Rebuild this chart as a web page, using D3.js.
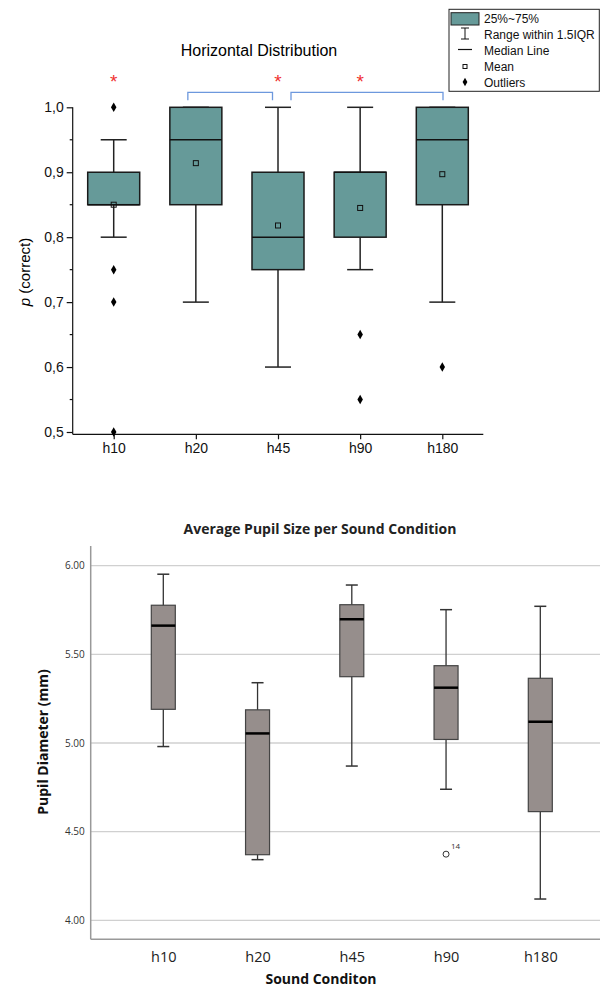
<!DOCTYPE html>
<html>
<head>
<meta charset="utf-8">
<script src="https://cdn.jsdelivr.net/npm/d3@7"></script>
<style>
  body { margin: 0; background: #fff; }
  svg { display: block; }
</style>
</head>
<body>
<div id="chart"></div>
<script>
// top chart: Horizontal Distribution
const conditions = ["h10", "h20", "h45", "h90", "h180"];
const topQ1 =     [0.85, 0.85, 0.75, 0.80, 0.85];
const topMedian = [0.85, 0.95, 0.80, 0.90, 0.95];
const topQ3 =     [0.90, 1.00, 0.90, 0.90, 1.00];
const topLow =    [0.80, 0.70, 0.60, 0.75, 0.70];
const topHigh =   [0.95, 1.00, 1.00, 1.00, 1.00];
const topMean =   [0.85, 0.914, 0.818, 0.845, 0.897];
const topOutliers = [[1.0, 0.75, 0.70, 0.50], [], [], [0.65, 0.55], [0.60]];
const topTicks = [0.5, 0.6, 0.7, 0.8, 0.9, 1.0];
const sigStars = ["h10", "h45", "h90"];
const sigBrackets = [["h20", "h45"], ["h45", "h180"]];
const legendLabels = ["25%~75%", "Range within 1.5IQR", "Median Line", "Mean", "Outliers"];

// bottom chart: Average Pupil Size
const pupilQ1 =     [5.19, 4.37, 5.374, 5.02, 4.613];
const pupilMedian = [5.662, 5.054, 5.698, 5.312, 5.12];
const pupilQ3 =     [5.777, 5.187, 5.78, 5.436, 5.365];
const pupilLow =    [4.98, 4.342, 4.87, 4.739, 4.12];
const pupilHigh =   [5.952, 5.34, 5.891, 5.752, 5.771];
const pupilOutliers = [[], [], [], [{v: 4.373, id: "14"}], []];
const pupilTicks = [4.0, 4.5, 5.0, 5.5, 6.0];

const svg = d3.select("#chart").append("svg")
    .attr("width", 604)
    .attr("height", 988);

// ---------- верхний график ----------
const fTop = "'Liberation Sans', Arial, sans-serif";
const y1 = d3.scaleLinear().domain([0.5, 1.0]).range([432, 107.3]);
const x1 = d3.scalePoint().domain(conditions).range([113.7, 442.3]);
const topG = svg.append("g");

topG.append("text")
    .attr("x", 259).attr("y", 56)
    .attr("text-anchor", "middle")
    .style("font-family", fTop).style("font-size", "16px")
    .text("Horizontal Distribution");

// оси
const yAxis1 = d3.axisLeft(y1).tickValues(topTicks)
    .tickFormat(d => d3.format(".1f")(d).replace(".", ","))
    .tickSize(6).tickPadding(3);
const gy1 = topG.append("g").attr("transform", "translate(72.7,0)").call(yAxis1);
gy1.select(".domain").attr("d", "M0,107.3V434.3");
// минорные тики
gy1.selectAll(".minor").data(d3.range(0.55, 1.0, 0.1)).enter()
    .append("line")
    .attr("x1", -3).attr("x2", 0)
    .attr("y1", d => y1(d)).attr("y2", d => y1(d))
    .attr("stroke", "#000");
gy1.selectAll("text").style("font-family", fTop).style("font-size", "14px").attr("fill", "#111");
gy1.selectAll("path, line").attr("stroke", "#111").attr("stroke-width", 1.2);

const gx1 = topG.append("g").attr("transform", "translate(0,434.3)")
    .call(d3.axisBottom(x1).tickSize(5).tickPadding(4));
gx1.select(".domain").attr("d", "M72.7,0H483.3");
gx1.selectAll("text").style("font-family", fTop).style("font-size", "14px").attr("fill", "#111");
gx1.selectAll("path, line").attr("stroke", "#111").attr("stroke-width", 1.2);

topG.append("text")
    .attr("transform", "translate(30,272) rotate(-90)")
    .attr("text-anchor", "middle")
    .style("font-family", fTop).style("font-size", "15px")
    .html("<tspan font-style='italic'>p</tspan> (correct)");

const boxW1 = 52, capW1 = 26;
conditions.forEach((c, i) => {
    const cx = x1(c);
    const g = topG.append("g");
    // усы
    g.append("line").attr("x1", cx).attr("x2", cx)
        .attr("y1", y1(topHigh[i])).attr("y2", y1(topQ3[i]))
        .attr("stroke", "#222").attr("stroke-width", 1.5);
    g.append("line").attr("x1", cx).attr("x2", cx)
        .attr("y1", y1(topQ1[i])).attr("y2", y1(topLow[i]))
        .attr("stroke", "#222").attr("stroke-width", 1.5);
    [topHigh[i], topLow[i]].forEach(v => {
        g.append("line").attr("x1", cx - capW1 / 2).attr("x2", cx + capW1 / 2)
            .attr("y1", y1(v)).attr("y2", y1(v))
            .attr("stroke", "#222").attr("stroke-width", 1.5);
    });
    g.append("rect")
        .attr("x", cx - boxW1 / 2).attr("width", boxW1)
        .attr("y", y1(topQ3[i])).attr("height", y1(topQ1[i]) - y1(topQ3[i]))
        .attr("fill", "#669a99").attr("stroke", "#1a1a1a").attr("stroke-width", 1.5);
    g.append("line").attr("x1", cx - boxW1 / 2).attr("x2", cx + boxW1 / 2)
        .attr("y1", y1(topMedian[i])).attr("y2", y1(topMedian[i]))
        .attr("stroke", "#111").attr("stroke-width", 1.5);
    g.append("rect")
        .attr("x", cx - 2.5).attr("y", y1(topMean[i]) - 2.5)
        .attr("width", 5).attr("height", 5)
        .attr("fill", "none").attr("stroke", "#111").attr("stroke-width", 1);
    topOutliers[i].forEach(v => {
        g.append("path")
            .attr("transform", `translate(${cx},${y1(v)})`)
            .attr("d", d3.symbol(d3.symbolDiamond, 26)())
            .attr("fill", "#000");
    });
});

// звездочки и скобки
sigStars.forEach(c => {
    topG.append("text").attr("x", x1(c)).attr("y", 88)
        .attr("text-anchor", "middle")
        .style("font-family", fTop).style("font-size", "19px")
        .attr("fill", "#f03030").text("*");
});
sigBrackets.forEach(([a, b], k) => {
    const xa = k === 0 ? x1(a) - 8 : x1(a) + 13;
    const xb = k === 0 ? x1(b) - 5.5 : x1(b) + 0.7;
    topG.append("path")
        .attr("d", `M${xa},100.3V92.3H${xb}V100.3`)
        .attr("fill", "none").attr("stroke", "#6d98dd").attr("stroke-width", 1.3);
});

// легенда
const leg = topG.append("g");
leg.append("rect").attr("x", 449).attr("y", 9.3).attr("width", 150.3).attr("height", 82)
    .attr("fill", "#fff").attr("stroke", "#222").attr("stroke-width", 1);
legendLabels.forEach((t, i) => {
    leg.append("text").attr("x", 484).attr("y", 23 + i * 16)
        .style("font-family", fTop).style("font-size", "12px")
        .attr("fill", "#111").text(t);
});
leg.append("rect").attr("x", 451).attr("y", 12.7).attr("width", 28).attr("height", 12.3)
    .attr("fill", "#669a99").attr("stroke", "#222").attr("stroke-width", 1);
leg.append("path").attr("d", "M461,28H469M465,28V39M461,39H469")
    .attr("stroke", "#111").attr("stroke-width", 1).attr("fill", "none");
leg.append("line").attr("x1", 458).attr("x2", 472).attr("y1", 49.5).attr("y2", 49.5)
    .attr("stroke", "#111").attr("stroke-width", 1.2);
leg.append("rect").attr("x", 463).attr("y", 64.5).attr("width", 4).attr("height", 4)
    .attr("fill", "none").attr("stroke", "#111").attr("stroke-width", 1);
leg.append("path").attr("transform", "translate(465,82)")
    .attr("d", d3.symbol(d3.symbolDiamond, 20)()).attr("fill", "#000");

// ---------- нижний график ----------
const fBot = "'Open Sans', 'DejaVu Sans', sans-serif";
const y2 = d3.scaleLinear().domain([4.0, 6.0]).range([920.3, 565.7]);
const x2 = d3.scalePoint().domain(conditions).range([163.3, 540.3]);
const bot = svg.append("g");

bot.append("text")
    .attr("x", 320).attr("y", 534)
    .attr("text-anchor", "middle")
    .style("font-family", fBot).style("font-size", "14px").style("font-weight", "bold")
    .attr("fill", "#222")
    .text("Average Pupil Size per Sound Condition");

// сетка
bot.selectAll(".grid").data(pupilTicks).enter()
    .append("line")
    .attr("x1", 90.7).attr("x2", 600)
    .attr("y1", d => y2(d)).attr("y2", d => y2(d))
    .attr("stroke", "#d0d0d0").attr("stroke-width", 1.3);

const gy2 = bot.append("g").attr("transform", "translate(90.7,0)")
    .call(d3.axisLeft(y2).tickValues(pupilTicks).tickFormat(d3.format(".2f")).tickSize(0).tickPadding(6));
gy2.select(".domain").attr("d", "M0,546V939.3").attr("stroke", "#999").attr("stroke-width", 1.5);
gy2.selectAll("text").style("font-family", fBot).style("font-size", "10px").attr("fill", "#333");

const gx2 = bot.append("g").attr("transform", "translate(0,939.3)")
    .call(d3.axisBottom(x2).tickSize(0).tickPadding(12));
gx2.select(".domain").attr("d", "M90.7,0H600").attr("stroke", "#999").attr("stroke-width", 1.5);
gx2.selectAll("text").style("font-family", fBot).style("font-size", "14.5px").attr("fill", "#222");

bot.append("text")
    .attr("x", 321).attr("y", 984)
    .attr("text-anchor", "middle")
    .style("font-family", fBot).style("font-size", "14px").style("font-weight", "bold")
    .attr("fill", "#111")
    .text("Sound Conditon");

bot.append("text")
    .attr("transform", "translate(48,742) rotate(-90)")
    .attr("text-anchor", "middle")
    .style("font-family", fBot).style("font-size", "14px").style("font-weight", "bold")
    .attr("fill", "#111")
    .text("Pupil Diameter (mm)");

const boxW2 = 24, capW2 = 12;
conditions.forEach((c, i) => {
    const cx = x2(c);
    const g = bot.append("g");
    g.append("line").attr("x1", cx).attr("x2", cx)
        .attr("y1", y2(pupilHigh[i])).attr("y2", y2(pupilLow[i]))
        .attr("stroke", "#333").attr("stroke-width", 1.3);
    [pupilHigh[i], pupilLow[i]].forEach(v => {
        g.append("line").attr("x1", cx - capW2 / 2).attr("x2", cx + capW2 / 2)
            .attr("y1", y2(v)).attr("y2", y2(v))
            .attr("stroke", "#333").attr("stroke-width", 1.5);
    });
    g.append("rect")
        .attr("x", cx - boxW2 / 2).attr("width", boxW2)
        .attr("y", y2(pupilQ3[i])).attr("height", y2(pupilQ1[i]) - y2(pupilQ3[i]))
        .attr("fill", "#968e8c").attr("stroke", "#444").attr("stroke-width", 1.2);
    g.append("line").attr("x1", cx - boxW2 / 2).attr("x2", cx + boxW2 / 2)
        .attr("y1", y2(pupilMedian[i])).attr("y2", y2(pupilMedian[i]))
        .attr("stroke", "#000").attr("stroke-width", 2.5);
    pupilOutliers[i].forEach(o => {
        g.append("circle").attr("cx", cx).attr("cy", y2(o.v)).attr("r", 3)
            .attr("fill", "#fff").attr("stroke", "#333").attr("stroke-width", 1);
        g.append("text").attr("x", cx + 5).attr("y", y2(o.v) - 5)
            .style("font-family", fBot).style("font-size", "8px").attr("fill", "#333")
            .text(o.id);
    });
});
</script>
</body>
</html>
